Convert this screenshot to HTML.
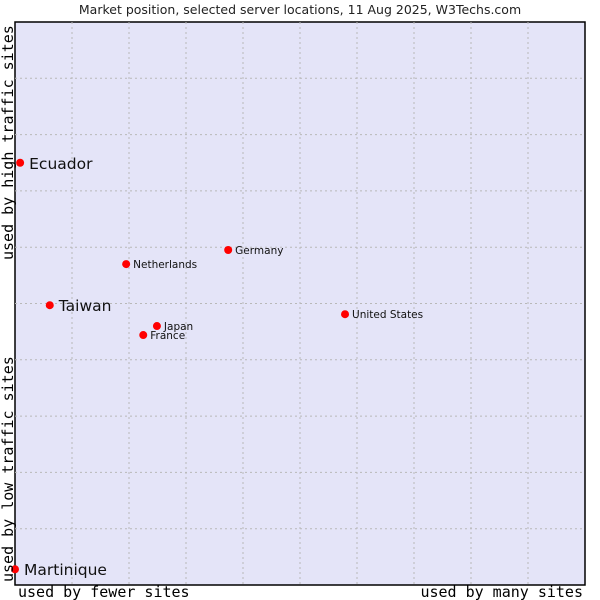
<!DOCTYPE html>
<html><head><meta charset="utf-8"><style>
body{margin:0;background:#fff}
svg{display:block}
text{font-family:"DejaVu Sans","Liberation Sans",sans-serif}
.ax{font-family:"DejaVu Sans Mono","Liberation Mono",monospace;font-size:15px}
</style></head><body>
<svg id="chart" width="600" height="600">
<text x="300" y="14" text-anchor="middle" font-size="12.5" fill="#222">Market position, selected server locations, 11 Aug 2025, W3Techs.com</text>
<rect x="15" y="22" width="570" height="563" fill="#e4e4f8" stroke="#000" stroke-width="1.5"/>
<g id="grid"></g>
<g id="points"></g>
<text class="ax" x="18" y="597">used by fewer sites</text>
<text class="ax" x="583" y="597" text-anchor="end">used by many sites</text>
<text class="ax" transform="translate(13,260) rotate(-90)">used by high traffic sites</text>
<text class="ax" transform="translate(13,582) rotate(-90)">used by low traffic sites</text>
</svg>
<script>
const names = ["Ecuador","Taiwan","Netherlands","Germany","Japan","France","United States","Martinique"];
const xValues = [0.9, 6.1, 19.5, 37.4, 24.9, 22.5, 57.9, 0];
const yValues = [75.0, 49.7, 57.0, 59.5, 46.0, 44.4, 48.1, 2.8];
const bigLabel = [true, true, false, false, false, false, false, true];
const NS="http://www.w3.org/2000/svg";
const L=15,R=585,T=22,B=585;
const xs=v=>L+(R-L)*v/100, ys=v=>B-(B-T)*v/100;
const grid=document.getElementById('grid');
for(let i=1;i<10;i++){
  const gx=document.createElementNS(NS,'line');
  
  
  gx.setAttribute('x1',xs(i*10));gx.setAttribute('x2',xs(i*10));gx.setAttribute('y1',T);gx.setAttribute('y2',B);
  gx.setAttribute('stroke','#b8b8b8');gx.setAttribute('stroke-dasharray','2,3');
  grid.appendChild(gx);
  const gy=document.createElementNS(NS,'line');
  
  
  gy.setAttribute('y1',ys(i*10));gy.setAttribute('y2',ys(i*10));gy.setAttribute('x1',L);gy.setAttribute('x2',R);
  gy.setAttribute('stroke','#b8b8b8');gy.setAttribute('stroke-dasharray','2,3');
  grid.appendChild(gy);
}
const pts=document.getElementById('points');
names.forEach((n,i)=>{
  const cx=xs(xValues[i]), cy=ys(yValues[i]);
  const d=document.createElementNS(NS,'circle');
  
  
  d.setAttribute('cx',cx);d.setAttribute('cy',cy);d.setAttribute('r',4);
  d.setAttribute('fill','#f00');
  pts.appendChild(d);
  const t=document.createElementNS(NS,'text');
  
  
  const big=bigLabel[i];
  t.setAttribute('x',cx+(big?9:7));
  t.setAttribute('y',cy+(big?6:4));
  t.setAttribute('font-size',big?15.5:10.5);
  t.setAttribute('fill','#111');
  t.textContent=n;
  pts.appendChild(t);
});
</script>
</body></html>
